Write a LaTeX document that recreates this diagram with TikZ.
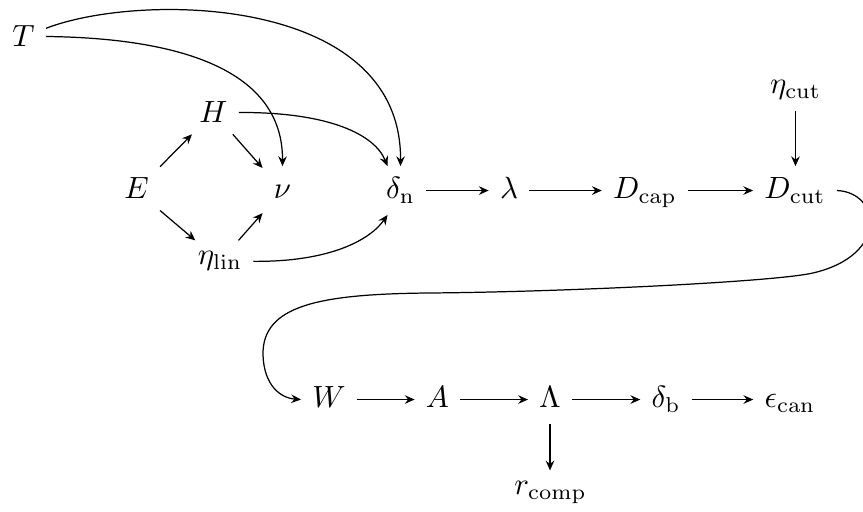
\documentclass[tikz,border=0pt]{standalone}
\usetikzlibrary{arrows.meta}
\tikzset{
  lbl/.style={anchor=base, inner sep=3.5pt},
  rowlbl/.style={lbl, text height=7pt, text depth=1.5pt},
  arr/.style={-{Stealth[length=3.2pt, width=2.8pt, inset=1.1pt]}, line width=0.4pt}
}
\begin{document}
\begin{tikzpicture}[x=0.3257pt, y=-0.3257pt]
\useasboundingbox (0,0) rectangle (863,512);
% nodes
\node[lbl] (T) at (23.5,47) {$T$};
\node[lbl] (H) at (213.5,123) {$H$};
\node[rowlbl] (E) at (136.5,199) {$E$};
\node[rowlbl] (nu) at (282.5,199) {$\nu$};
\node[lbl] (etalin) at (220,265) {$\eta_{\mathrm{lin}}$};
\node[rowlbl] (dn) at (400.5,199) {$\delta_{\mathrm{n}}$};
\node[rowlbl] (lam) at (509,199) {$\lambda$};
\node[rowlbl] (Dcap) at (645,199) {$D_{\mathrm{cap}}$};
\node[rowlbl] (Dcut) at (795,199) {$D_{\mathrm{cut}}$};
\node[lbl] (etacut) at (795.5,94) {$\eta_{\mathrm{cut}}$};
\node[rowlbl] (W) at (329,408) {$W$};
\node[rowlbl] (A) at (437.5,408) {$A$};
\node[rowlbl] (Lam) at (550,408) {$\Lambda$};
\node[rowlbl] (db) at (666,408) {$\delta_{\mathrm{b}}$};
\node[rowlbl] (ecan) at (790,408) {$\epsilon_{\mathrm{can}}$};
\node[lbl] (rcomp) at (550.5,495) {$r_{\mathrm{comp}}$};
% straight arrows
\draw[arr] (E) -- (H);
\draw[arr] (E) -- (etalin);
\draw[arr] (H) -- (nu);
\draw[arr] (etalin) -- (nu);
\draw[arr] (dn) -- (lam);
\draw[arr] (lam) -- (Dcap);
\draw[arr] (Dcap) -- (Dcut);
\draw[arr] (etacut.south) -- (etacut.south |- Dcut.north);
\draw[arr] (W) -- (A);
\draw[arr] (A) -- (Lam);
\draw[arr] (Lam) -- (db);
\draw[arr] (db) -- (ecan);
\draw[arr] (Lam.south) -- (Lam.south |- rcomp.north);
% curved arrows
\draw[arr] (T.east) .. controls (180,38) and (283,70) .. (nu.north);
\draw[arr] (T.20) .. controls (140,-8) and (402,-5) .. (dn.north);
\draw[arr] (H.east) .. controls (330,112) and (375,135) .. (dn.118);
\draw[arr] (etalin.east) .. controls (330,262) and (370,240) .. (dn.242);
\draw[arr] (Dcut.east) .. controls (880,192) and (890,255) .. (813,273)
  .. controls (774,282) and (560,292) .. (430,293)
  .. controls (320,294) and (262,305) .. (263,355)
  .. controls (264,385) and (280,398) .. (W.west);
\end{tikzpicture}
\end{document}
